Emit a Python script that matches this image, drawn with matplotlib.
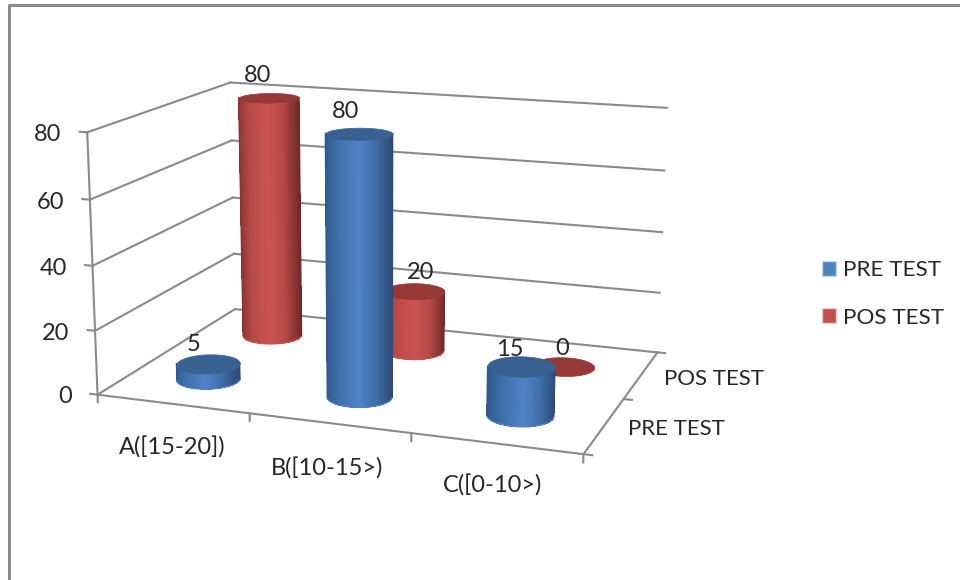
import numpy as np
import matplotlib
matplotlib.use('Agg')
import matplotlib.pyplot as plt
from matplotlib.lines import Line2D
from matplotlib.patches import Patch
from mpl_toolkits.mplot3d import proj3d
from mpl_toolkits.mplot3d.art3d import Poly3DCollection

plt.rcParams['font.family'] = ['Lato', 'DejaVu Sans']

categories = ['A([15-20])', 'B([10-15>)', 'C([0-10>)']
series = ['PRE TEST', 'POS TEST']
pre_test = [5, 80, 15]
pos_test = [80, 20, 0]
value_ticks = [0, 20, 40, 60, 80]

# camera fitted to the corners of the chart box (pixels from bottom left)
ELEV, AZIM, ROLL, FOCAL = 14.008, -70.281, -0.062, 0.5438
BOX = (1.8696, 1.2468, 1.0)
SCALE, TX, TY = 3366.46, 387.98, 331.64

RADIUS = 0.195
GREY = '#8a8a8a'
TEXT = '#262626'
FONT = 17

# side shading from left edge to right edge of a cylinder
SHADE_POS = [-1.0, -0.6, 0.0, 0.5, 1.0]
BLUE_SHADE = ['#2f5a90', '#3f6fa9', '#4f82c6', '#3f6da6', '#2b4a75']
RED_SHADE = ['#8a3432', '#b54a47', '#cc5351', '#b24845', '#6f2927']
BLUE_TOP = '#386192'
RED_TOP = '#953836'
BLUE = '#4f81bd'
RED = '#c0504d'


def shade(colors, u):
    rgb = np.array([matplotlib.colors.to_rgb(c) for c in colors])
    out = np.ones((len(u), 4))
    for i in range(3):
        out[:, i] = np.interp(u, SHADE_POS, rgb[:, i])
    return out


def cylinder(ax, xc, yc, h, colors, top, zorder):
    # only the half that faces the camera is drawn, the top covers the rest
    facing = np.radians(AZIM)
    theta = np.linspace(facing - np.radians(92), facing + np.radians(92), 93)
    if h > 0:
        X = xc + RADIUS * np.cos(theta)
        Y = yc + RADIUS * np.sin(theta)
        mid = (theta[:-1] + theta[1:]) / 2
        face = shade(colors, np.sin(mid - facing))[np.newaxis, :, :]
        side = ax.plot_surface(np.array([X, X]), np.array([Y, Y]),
                               np.array([X * 0, X * 0 + h]), facecolors=face,
                               shade=False, rstride=1, cstride=1, linewidth=0,
                               antialiased=False, zorder=zorder)
        side.set_snap(False)
        # the side has no antialiasing, so soften its outline with thin lines
        ax.plot(X, Y, X * 0, color=colors[2], lw=0.9, zorder=zorder + 0.2)
        for k, c in ((1, colors[0]), (-2, colors[-1])):
            ax.plot([X[k], X[k]], [Y[k], Y[k]], [0, h], color=c, lw=1.0,
                    zorder=zorder + 0.2)
    circle = np.linspace(0, 2 * np.pi, 121)
    ring = np.c_[xc + RADIUS * np.cos(circle), yc + RADIUS * np.sin(circle),
                 circle * 0 + h]
    poly = Poly3DCollection([ring], facecolor=top, edgecolor=top,
                            linewidth=0.5, zorder=zorder + 0.5)
    poly.set_snap(False)
    ax.add_collection3d(poly)


def label(ax, x, y, z, text, dx, dy, ha='center', size=FONT):
    px, py, _ = proj3d.proj_transform(x, y, z, ax.get_proj())
    ax.annotate(text, (px, py), xytext=(dx, dy), textcoords='offset pixels',
                ha=ha, va='center', fontsize=size, color=TEXT,
                annotation_clip=False)


fig = plt.figure(figsize=(9.6, 5.8), dpi=100)
ax = fig.add_subplot(projection='3d', computed_zorder=False)
ax.view_init(elev=ELEV, azim=AZIM, roll=ROLL)
ax.set_proj_type('persp', focal_length=FOCAL)
ax.set_box_aspect(BOX)
ax.set_axis_off()

n_cat, n_ser = len(categories), len(series)
zmax = value_ticks[-1]

# walls and gridlines
line = dict(color=GREY, lw=1.5, zorder=1)
for v in value_ticks:
    ax.plot([-0.05, 0], [0, 0], [v, v], **line)
    ax.plot([0, 0], [0, n_ser], [v, v], **line)
    ax.plot([0, n_cat], [n_ser, n_ser], [v, v], **line)
ax.plot([0, 0], [0, 0], [0, zmax], **line)
ax.plot([0, n_cat], [0, 0], [0, 0], **line)
ax.plot([n_cat, n_cat], [0, n_ser], [0, 0], **line)
for i in range(n_cat + 1):
    ax.plot([i, i], [0, 0], [0, -2.4], **line)
for j in range(n_ser + 1):
    ax.plot([n_cat, n_cat + 0.05], [j, j], [0, 0], **line)

# red row sits behind the blue row
for i in range(n_cat):
    cylinder(ax, i + 0.5, 1.5, pos_test[i], RED_SHADE, RED_TOP, 2 + i)
for i in range(n_cat):
    cylinder(ax, i + 0.5, 0.5, pre_test[i], BLUE_SHADE, BLUE_TOP, 6 + i)

ax.set_xlim(0, n_cat)
ax.set_ylim(0, n_ser)
ax.set_zlim(0, zmax)

# place the axes so one view unit is SCALE pixels
x0, x1 = ax.viewLim.intervalx
y0, y1 = ax.viewLim.intervaly
ax.set_position([(TX + SCALE * x0) / 960, (TY + SCALE * y0) / 580,
                 SCALE * (x1 - x0) / 960, SCALE * (y1 - y0) / 580])

for v in value_ticks:
    label(ax, -0.05, 0, v, str(v), -18, -3, ha='right')
for i, name in enumerate(categories):
    label(ax, i + 0.5, 0, 0, name, [0, -2, -3][i], [-44, -46, -42][i])
for j, name in enumerate(series):
    label(ax, n_cat, j + 0.5, 0, name, [72, 73][j], -4, size=16)

pre_dx, pre_dy = [-14, -13, -12], [19, 22, 17]
pos_dx, pos_dy = [-11, 6, -1], [22, 19, 18]
for i in range(n_cat):
    label(ax, i + 0.5, 0.5, pre_test[i], str(pre_test[i]), pre_dx[i], pre_dy[i])
    label(ax, i + 0.5, 1.5, pos_test[i], str(pos_test[i]), pos_dx[i], pos_dy[i])

handles = [Patch(facecolor=BLUE, edgecolor='#c8d6ea', label=series[0]),
           Patch(facecolor=RED, edgecolor='#eccfce', label=series[1])]
fig.legend(handles=handles, loc='center left', bbox_to_anchor=(0.835, 0.493),
           frameon=False, fontsize=16.2, labelcolor=TEXT, handlelength=0.64,
           handleheight=0.64, handletextpad=0.3, labelspacing=1.22)

# chart frame
fig.add_artist(Line2D([9.3 / 960, 9.3 / 960, 1], [0, 575.5 / 580, 575.5 / 580],
                      color='#8c8c8c', lw=2.2))

fig.savefig('out.png', dpi=100)
